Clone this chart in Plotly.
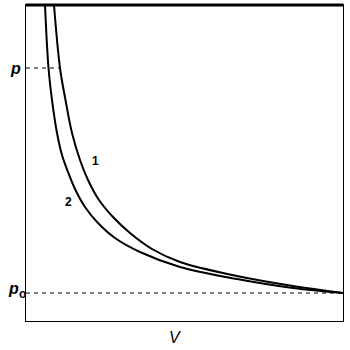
import plotly.graph_objects as go

# Curve 1 (upper, steeper) points
V1 = [28, 34, 39.5, 46, 54, 62, 73, 87, 104, 126, 154, 211, 267, 317]
p1 = [316, 253, 221, 188, 161, 141, 121, 104, 88, 72, 59, 45, 35, 28]
# Curve 2 (lower) points
V2 = [19, 22.5, 26, 31, 36, 42, 49, 59, 72, 89, 114, 154, 211, 267, 317]
p2 = [316, 253, 221, 188, 166, 149, 132, 114, 98, 83, 69, 54, 42, 33, 28]

p_level = 253
p0_level = 28
V_p = 34
V_end = 317

fig = go.Figure()
for V, P in [(V1, p1), (V2, p2)]:
    fig.add_trace(go.Scatter(x=V, y=P, mode="lines",
                             line=dict(color="black", width=2, shape="spline", smoothing=1.0),
                             showlegend=False, hoverinfo="skip"))
fig.add_trace(go.Scatter(x=[0, V_p], y=[p_level, p_level], mode="lines",
                         line=dict(color="black", width=1, dash="4px,4px"), showlegend=False, hoverinfo="skip"))
fig.add_trace(go.Scatter(x=[0, V_end], y=[p0_level, p0_level], mode="lines",
                         line=dict(color="black", width=1, dash="4px,4px"), showlegend=False, hoverinfo="skip"))

font = dict(family="Liberation Sans, Arial", size=16, color="black")
fig.add_annotation(x=-0.058, y=0.832, text="<b><i>p</i></b>", showarrow=False, xref="paper", yref="paper", font=font)
fig.add_annotation(x=-0.062, y=0.07, text="<b><i>p</i></b>", showarrow=False, xref="paper", yref="paper", font=font)
fig.add_annotation(x=-0.027, y=0.058, text="<b>o</b>", showarrow=False, xref="paper", yref="paper",
                   font=dict(family="Liberation Sans, Arial", size=12, color="black"))
fig.add_annotation(x=0.47, y=-0.085, text="<i>V</i>", showarrow=False, xref="paper", yref="paper", font=font)
small = dict(family="Liberation Sans, Arial", size=12, color="black")
fig.add_annotation(x=69, y=160, text="<b>1</b>", showarrow=False, xref="x", yref="y", font=small)
fig.add_annotation(x=42, y=119, text="<b>2</b>", showarrow=False, xref="x", yref="y", font=small)

fig.add_shape(type="line", xref="paper", yref="paper", x0=0, x1=1, y0=1, y1=1,
              line=dict(color="black", width=3))

fig.update_xaxes(range=[0, 317], showgrid=False, zeroline=False, showticklabels=False, ticks="",
                 showline=True, linecolor="black", linewidth=1, mirror=True)
fig.update_yaxes(range=[0, 316], showgrid=False, zeroline=False, showticklabels=False, ticks="",
                 showline=True, linecolor="black", linewidth=1, mirror=True)
fig.update_layout(width=350, height=350, margin=dict(l=26, r=7, t=5, b=29),
                  paper_bgcolor="white", plot_bgcolor="white")
fig.write_html("out.html", config={"displayModeBar": False},
               post_script="document.body.style.margin='0';")
